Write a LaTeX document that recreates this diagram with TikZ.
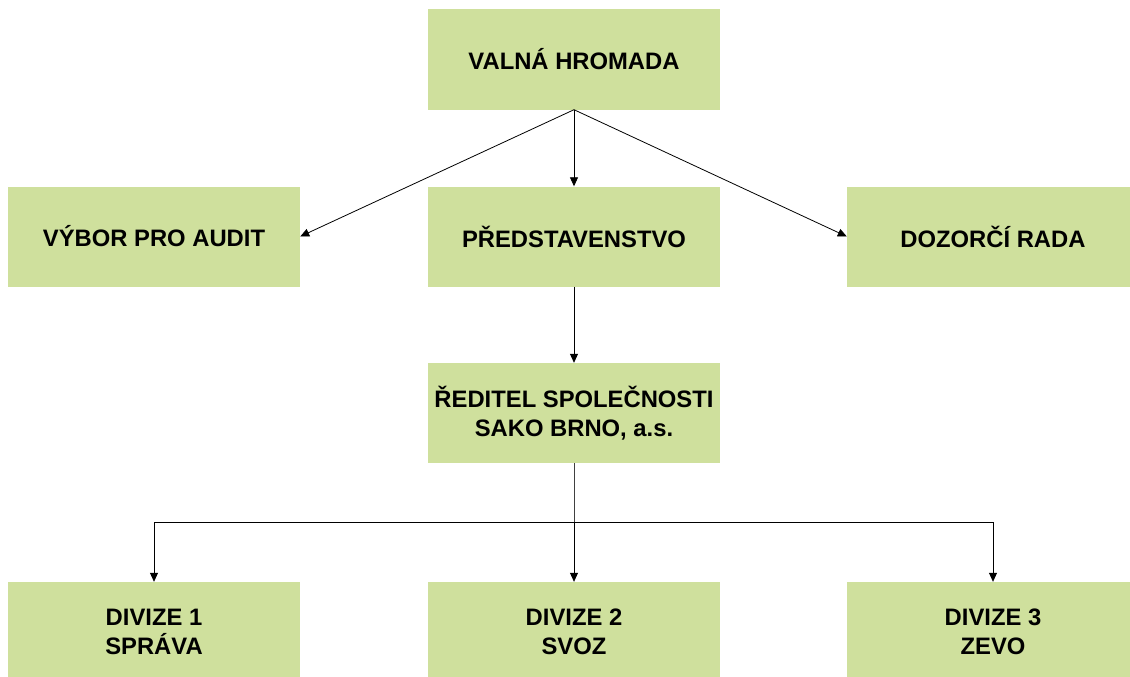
\documentclass[tikz,border=0pt]{standalone}
\usepackage{fontspec}
\setmainfont{Liberation Sans}
\usetikzlibrary{arrows.meta}
\definecolor{boxgreen}{RGB}{207,224,157}
\tikzset{
  orgbox/.style={fill=boxgreen, draw=none, minimum width=292pt, minimum height=100pt, inner sep=0pt, align=center, font=\fontsize{23.8}{29.5}\selectfont\bfseries},
  conn/.style={draw=black, line width=0.8pt, -{Triangle[length=9pt,width=8pt]}},
  seg/.style={draw=black!75, line width=0.8pt}
}
\begin{document}
\begin{tikzpicture}[x=1pt,y=-1pt]
\useasboundingbox (0,0) rectangle (1130,677);
\clip (0,0) rectangle (1130,677);
\node[orgbox] (vh) at (574,59.5) {VALNÁ HROMADA};
\node[orgbox] (vpa) at (154,236.5) {VÝBOR PRO AUDIT};
\node[orgbox] (pr) at (574,236.5) {PŘEDSTAVENSTVO};
\node[orgbox] (dr) at (993,236.5) {DOZORČÍ RADA};
\node[orgbox] (red) at (574,413) {ŘEDITEL SPOLEČNOSTI\\SAKO BRNO, a.s.};
\node[orgbox] (d1) at (154,632) {DIVIZE 1\\SPRÁVA};
\node[orgbox] (d2) at (574,632) {DIVIZE 2\\SVOZ};
\node[orgbox] (d3) at (993,632) {DIVIZE 3\\ZEVO};
\coordinate (bus) at (574,522);
\draw[conn] (vh.south) -- (pr.north);
\draw[conn] (vh.south) -- (vpa.east);
\draw[conn] (vh.south) -- (dr.west);
\draw[conn] (pr.south) -- (red.north);
\draw[seg] (red.south) -- (bus);
\draw[conn] (bus) -- (d2.north);
\draw[conn] (bus) -| (d1.north);
\draw[conn] (bus) -| (d3.north);
\end{tikzpicture}
\end{document}
